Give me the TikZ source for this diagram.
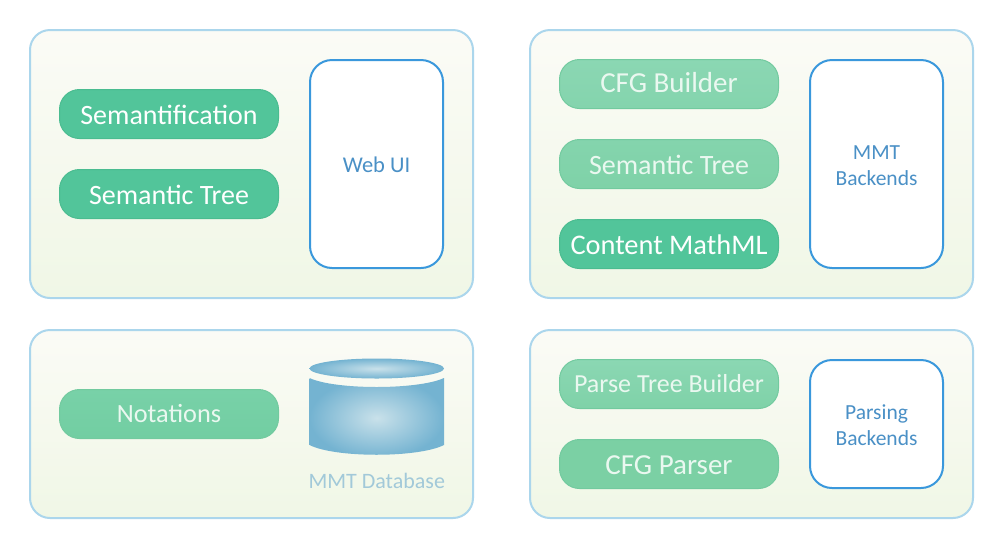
\documentclass[tikz,border=0pt]{standalone}
\usepackage{fontspec}
\usepackage{tikz}
\setmainfont{Carlito}
\definecolor{panelline}{HTML}{ABD6EC}
\definecolor{paneltop}{HTML}{FBFBF6}
\definecolor{panelbot}{HTML}{F0F7E6}
\definecolor{boxline}{HTML}{3A98DC}
\definecolor{boxtext}{HTML}{4A90C6}
\definecolor{dbtext}{HTML}{A2C9D9}
\definecolor{pilldark}{HTML}{52C59A}
\definecolor{pilldarkline}{HTML}{4ABC90}
\definecolor{softtext}{HTML}{EAF8F0}
\definecolor{softline}{HTML}{72CA9F}
\definecolor{softa}{HTML}{8BD7B3}
\definecolor{softb}{HTML}{84D4AD}
\definecolor{softc}{HTML}{7FD2A8}
\definecolor{softd}{HTML}{7BD0A4}
\definecolor{softe}{HTML}{78D1A8}
\definecolor{softf}{HTML}{72CEA2}
\definecolor{dbinner}{HTML}{C9E1EA}
\definecolor{dbouter}{HTML}{74B3D1}
\tikzset{
  panel/.style={draw=panelline, line width=2pt, rectangle, rounded corners=20pt, top color=paneltop, bottom color=panelbot, minimum width=443pt, inner sep=0pt},
  backend/.style={draw=boxline, line width=2pt, rectangle, rounded corners=22pt, fill=white, text=boxtext, minimum width=133pt, align=center, font=\fontsize{21.5}{26}\selectfont, inner sep=0pt},
  pill/.style={rectangle, rounded corners=20pt, minimum width=219pt, minimum height=49pt, inner sep=0pt, line width=1pt, text depth=0pt},
  pillstrong/.style={pill, draw=pilldarkline, fill=pilldark, text=white, text height=20pt},
  pillsoft/.style={pill, draw=softline, text=softtext}
}
\begin{document}
\begin{tikzpicture}[x=1pt, y=-1pt, node distance=80pt]
        \path [use as bounding box, fill=white] (0,0) rectangle (1005,550);

        \node (WebPanel) [panel, minimum height=268pt] at (251.5,164) {};
        \node (MmtPanel) [panel, minimum height=268pt] at (751.5,164) {};
        \node (DbPanel) [panel, minimum height=188pt] at (251.5,424) {};
        \node (ParsePanel) [panel, minimum height=188pt] at (751.5,424) {};

        \node (Semantification) [pillstrong, font=\fontsize{28}{30}\selectfont] at (169,114) {Semantification};
        \node (SemTree) [pillstrong, font=\fontsize{28}{30}\selectfont, below of=Semantification] {Semantic Tree};
        \node (WebUI) [backend, minimum height=208pt, text height=17pt, text depth=0pt, font=\fontsize{22.5}{26}\selectfont] at (376.5,164) {Web UI};

        \node (CfgBuilder) [pillsoft, top color=softa, bottom color=softb, text height=17.5pt, font=\fontsize{29}{30}\selectfont] at (669,84) {CFG Builder};
        \node (SemTreeTwo) [pillsoft, top color=softb, bottom color=softc, text height=20pt, font=\fontsize{28}{30}\selectfont, below of=CfgBuilder] {Semantic Tree};
        \node (MathML) [pillstrong, font=\fontsize{28.4}{30}\selectfont, below of=SemTreeTwo] {Content MathML};
        \node (MmtBackends) [backend, minimum height=208pt, text height=42.6pt, text depth=0pt] at (876.5,164) {MMT\\Backends};

        \node (Notations) [pillsoft, top color=softe, bottom color=softf, text height=17pt, font=\fontsize{26.3}{30}\selectfont] at (169,414) {Notations};

        \node (ParseBuilder) [pillsoft, top color=softa, bottom color=softc, text height=17.5pt, font=\fontsize{26}{30}\selectfont] at (669,384) {Parse Tree Builder};
        \node (CfgParser) [pillsoft, top color=softd, bottom color=softd, text height=20pt, font=\fontsize{29}{30}\selectfont, below of=ParseBuilder] {CFG Parser};
        \node (ParsingBackends) [backend, minimum height=128pt, text height=42.6pt, text depth=0pt] at (876.5,424) {Parsing\\Backends};

        % database drum
        \shade [inner color=dbinner, outer color=dbouter] (309.5,378) .. controls (335,390) and (418,390) .. (444,378) -- (444,445) .. controls (418,458) and (335,458) .. (309.5,445) -- cycle;
        \shade [inner color=dbinner, outer color=dbouter] (376.75,368.5) ellipse [x radius=67.25, y radius=10];
        \node (MmtDatabase) [text=dbtext, font=\fontsize{22}{26}\selectfont] at (376.75,481) {MMT Database};
      \end{tikzpicture}
\end{document}
